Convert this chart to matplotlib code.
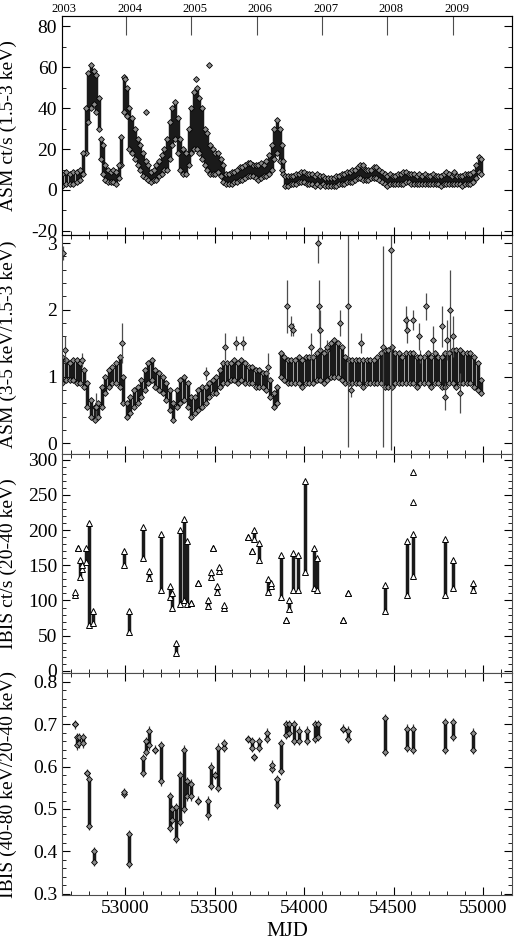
import matplotlib
matplotlib.use("Agg")
import matplotlib.pyplot as plt
import numpy as np
from matplotlib.ticker import MultipleLocator

plt.rcParams['font.family'] = ['Liberation Serif', 'DejaVu Serif']
plt.rcParams['axes.unicode_minus'] = False

# ASM 1.5-3 keV rate: MJD, lower and upper envelope of the points
asm_t = [52650, 52670, 52690, 52710, 52730, 52750, 52765, 52780, 52795, 52810, 52825, 52840, 52855, 52865,
         52875, 52890, 52905, 52920, 52935, 52950, 52965, 52980, 52995, 53010, 53025, 53040, 53055, 53070,
         53085, 53100, 53115, 53130, 53145, 53160, 53175, 53190, 53205, 53220, 53235, 53250, 53265, 53280,
         53295, 53310, 53325, 53340, 53355, 53370, 53385, 53400, 53415, 53430, 53445, 53460, 53475, 53490,
         53505, 53520, 53535, 53550, 53565, 53580, 53595, 53610, 53625, 53640, 53655, 53670, 53685, 53700,
         53715, 53730, 53745, 53760, 53775, 53790, 53805, 53820, 53835, 53850, 53865, 53875, 53885, 53895,
         53910, 53925, 53940, 53955, 53970, 53985, 54000, 54015, 54030, 54045, 54060, 54075, 54090, 54105,
         54120, 54135, 54150, 54165, 54180, 54195, 54210, 54225, 54240, 54255, 54270, 54285, 54300, 54315,
         54330, 54345, 54360, 54375, 54390, 54405, 54420, 54435, 54450, 54465, 54480, 54495, 54510, 54525,
         54540, 54555, 54570, 54585, 54600, 54615, 54630, 54645, 54660, 54675, 54690, 54705, 54720, 54735,
         54750, 54765, 54780, 54795, 54810, 54825, 54840, 54855, 54870, 54885, 54900, 54915, 54930, 54945,
         54960, 54975, 54990]
asm_lo = [2, 3, 3, 3, 4, 5, 8, 18, 33, 40, 42, 38, 30, 15,
          8, 5, 4, 4, 4, 3, 6, 12, 38, 36, 20, 18, 15, 12,
          10, 7, 6, 5, 4, 5, 5, 7, 8, 10, 10, 15, 22, 25,
          18, 10, 8, 8, 12, 18, 20, 20, 18, 15, 12, 10, 8, 8,
          8, 9, 7, 4, 3, 3, 3, 4, 4, 5, 5, 6, 7, 7,
          7, 6, 5, 6, 7, 7, 8, 10, 15, 18, 14, 10, 8, 2,
          2, 3, 3, 3, 4, 4, 4, 3, 3, 3, 2, 3, 2, 3,
          2, 2, 2, 2, 2, 3, 3, 3, 4, 4, 4, 5, 6, 6,
          5, 5, 5, 6, 6, 6, 5, 4, 3, 2, 3, 3, 3, 3,
          3, 3, 4, 4, 3, 3, 3, 3, 3, 3, 3, 3, 3, 3,
          3, 2, 3, 3, 3, 3, 3, 3, 3, 2, 3, 3, 3, 4,
          6, 9, 8]
asm_hi = [8, 9, 8, 9, 9, 10, 18, 40, 57, 61, 58, 56, 45, 25,
          22, 12, 10, 9, 10, 9, 12, 26, 55, 50, 40, 35, 30, 25,
          22, 18, 14, 12, 9, 10, 12, 14, 17, 20, 25, 33, 40, 43,
          35, 25, 20, 18, 30, 40, 48, 50, 45, 40, 30, 28, 22, 20,
          18, 18, 15, 12, 8, 8, 9, 9, 10, 11, 11, 12, 13, 13,
          12, 12, 12, 13, 12, 14, 17, 22, 30, 34, 30, 22, 14, 7,
          7, 7, 7, 8, 8, 9, 9, 8, 8, 8, 7, 8, 7, 7,
          6, 6, 6, 6, 7, 7, 8, 8, 9, 9, 10, 10, 11, 12,
          11, 10, 10, 10, 11, 11, 10, 9, 8, 7, 8, 7, 7, 8,
          8, 9, 9, 8, 8, 8, 7, 8, 7, 8, 7, 7, 8, 7,
          7, 7, 8, 9, 8, 7, 8, 7, 7, 7, 8, 8, 8, 9,
          12, 16, 15]
asm_out_t = [53000, 53395, 53470, 53120, 53700, 54330, 54840]
asm_out_v = [54, 54, 61, 38, 13, 12, 9]

# ASM hardness ratio (3-5 keV / 1.5-3 keV)
hr_t = [52650, 52670, 52690, 52710, 52730, 52750, 52770, 52790, 52810, 52830, 52850, 52870, 52890, 52910,
        52930, 52950, 52970, 52990, 53010, 53030, 53050, 53070, 53090, 53110, 53130, 53150, 53170, 53190,
        53210, 53230, 53250, 53270, 53290, 53310, 53330, 53350, 53370, 53390, 53410, 53430, 53450, 53470,
        53490, 53510, 53530, 53550, 53570, 53590, 53610, 53630, 53650, 53670, 53690, 53710, 53730, 53750,
        53770, 53790, 53810, 53830, 53850, 53870, 53890, 53910, 53930, 53950, 53970, 53990, 54010, 54030,
        54050, 54070, 54090, 54110, 54130, 54150, 54170, 54190, 54210, 54230, 54250, 54270, 54290, 54310,
        54330, 54350, 54370, 54390, 54410, 54430, 54450, 54470, 54490, 54510, 54530, 54550, 54570, 54590,
        54610, 54630, 54650, 54670, 54690, 54710, 54730, 54750, 54770, 54790, 54810, 54830, 54850, 54870,
        54890, 54910, 54930, 54950, 54970, 54990]
hr_lo = [0.9, 0.95, 0.95, 0.95, 0.9, 0.9, 0.85, 0.55, 0.4, 0.35, 0.4, 0.55, 0.75, 0.85,
         0.9, 0.9, 0.85, 0.6, 0.4, 0.45, 0.55, 0.6, 0.7, 0.8, 0.9, 0.95, 0.85, 0.8,
         0.75, 0.65, 0.5, 0.35, 0.55, 0.6, 0.65, 0.55, 0.4, 0.45, 0.5, 0.55, 0.6, 0.7,
         0.75, 0.75, 0.85, 0.9, 0.9, 0.95, 0.95, 0.9, 0.95, 0.9, 0.9, 0.9, 0.85, 0.85,
         0.85, 0.8, 0.7, 0.55, 0.6, 1.0, 0.95, 0.9, 0.9, 0.9, 0.9, 0.85, 0.9, 0.9,
         0.9, 0.95, 0.95, 0.9, 0.95, 1.0, 1.0, 1.0, 0.95, 0.9, 0.9, 0.9, 0.9, 0.9,
         0.85, 0.9, 0.9, 0.9, 0.9, 0.9, 0.85, 0.85, 0.85, 0.9, 0.9, 0.9, 0.9, 0.9,
         0.9, 0.85, 0.9, 0.9, 0.9, 0.85, 0.9, 0.9, 0.85, 0.85, 0.9, 0.9, 0.85, 0.9,
         0.9, 0.9, 0.9, 0.85, 0.8, 0.75]
hr_hi = [1.3, 1.25, 1.2, 1.25, 1.25, 1.2, 1.1, 0.9, 0.65, 0.55, 0.6, 0.85, 1.0, 1.1,
         1.15, 1.2, 1.3, 1.0, 0.6, 0.7, 0.8, 0.85, 0.95, 1.1, 1.2, 1.25, 1.1, 1.05,
         1.0, 0.9, 0.8, 0.6, 0.8, 0.95, 1.0, 0.9, 0.7, 0.7, 0.8, 0.85, 0.85, 0.9,
         0.95, 1.0, 1.1, 1.2, 1.2, 1.2, 1.25, 1.2, 1.25, 1.2, 1.15, 1.15, 1.1, 1.1,
         1.05, 1.05, 0.95, 0.75, 0.85, 1.35, 1.3, 1.25, 1.25, 1.25, 1.3, 1.25, 1.3, 1.3,
         1.3, 1.35, 1.4, 1.35, 1.4, 1.5, 1.55, 1.5, 1.45, 1.3, 1.25, 1.25, 1.25, 1.25,
         1.25, 1.25, 1.25, 1.25, 1.3, 1.35, 1.4, 1.4, 1.45, 1.35, 1.35, 1.3, 1.35, 1.35,
         1.35, 1.3, 1.3, 1.3, 1.35, 1.3, 1.35, 1.3, 1.3, 1.35, 1.35, 1.4, 1.4, 1.4,
         1.35, 1.35, 1.35, 1.3, 1.2, 0.95]
hr_out_t = [52655, 52665, 52760, 52840, 52985, 53450, 53560, 53620, 53660, 53800, 53907, 53925, 53940,
            54040, 54080, 54082, 54090, 54130, 54200, 54244, 54260, 54320, 54443, 54484, 54570, 54575,
            54610, 54640, 54650, 54680, 54720, 54770, 54790, 54800, 54815, 54830, 54870]
hr_out_v = [2.85, 1.4, 1.25, 0.55, 1.5, 1.05, 1.45, 1.5, 1.5, 1.15, 2.05, 1.75, 1.7,
            1.45, 3.0, 2.05, 1.7, 1.45, 1.8, 2.05, 0.8, 1.5, 1.45, 2.9, 1.85, 1.7,
            1.85, 1.6, 1.3, 2.05, 1.55, 1.75, 0.7, 1.55, 2.0, 1.6, 0.75]
hr_out_e = [0.1, 0.2, 0.1, 0.2, 0.3, 0.1, 0.2, 0.1, 0.1, 0.2, 0.4, 0.15, 0.1,
            0.2, 0.3, 0.4, 0.3, 0.1, 0.2, 2.1, 0.1, 0.15, 1.5, 3.0, 0.2, 0.2,
            0.15, 0.2, 0.1, 0.2, 0.2, 0.3, 0.2, 0.3, 0.6, 0.3, 0.3]

# IBIS 20-40 keV rate, grouped per observation: MJD, min, max
ibis_t = [52721, 52740, 52750, 52760, 52782, 52800, 52819, 52994, 53020, 53102, 53136, 53200, 53250,
          53260, 53283, 53310, 53330, 53345, 53367, 53406, 53466, 53480, 53493, 53516, 53525, 53555,
          53689, 53711, 53722, 53748, 53800, 53815, 53871, 53899, 53916, 53940, 53968, 54005, 54058,
          54075, 54220, 54248, 54452, 54573, 54607, 54787, 54830, 54946]
ibis_lo = [108, 175, 133, 145, 155, 65, 68, 150, 55, 160, 132, 115, 105, 90, 25, 95, 100, 95, 97, 125,
           92, 133, 175, 112, 142, 90, 190, 170, 188, 158, 112, 120, 105, 72, 88, 115, 115, 140, 118,
           115, 72, 110, 85, 108, 135, 108, 118, 115]
ibis_hi = [112, 175, 157, 150, 175, 210, 85, 170, 85, 205, 142, 195, 120, 110, 40, 200, 215, 185, 97,
           125, 100, 140, 175, 120, 148, 93, 190, 170, 200, 182, 130, 125, 165, 72, 100, 167, 165, 270,
           175, 160, 72, 110, 122, 185, 195, 188, 157, 125]
ibis_out_t = [54607, 54607]
ibis_out_v = [240, 283]

# IBIS hardness ratio (40-80 keV / 20-40 keV)
ih_t = [52721, 52730, 52745, 52763, 52786, 52800, 52827, 52994, 53020, 53102, 53115, 53136, 53168,
        53200, 53250, 53260, 53283, 53310, 53330, 53345, 53367, 53406, 53466, 53480, 53503, 53521,
        53555, 53689, 53711, 53722, 53748, 53795, 53819, 53847, 53871, 53900, 53915, 53945, 53970,
        54015, 54060, 54078, 54220, 54248, 54452, 54573, 54607, 54787, 54830, 54946]
ih_lo = [0.70, 0.65, 0.655, 0.655, 0.585, 0.46, 0.375, 0.535, 0.37, 0.585, 0.635, 0.65, 0.64,
         0.565, 0.455, 0.475, 0.43, 0.47, 0.50, 0.53, 0.53, 0.52, 0.485, 0.555, 0.58, 0.55,
         0.645, 0.665, 0.645, 0.623, 0.645, 0.665, 0.595, 0.51, 0.59, 0.675, 0.68, 0.66, 0.66,
         0.66, 0.665, 0.67, 0.69, 0.665, 0.635, 0.645, 0.64, 0.64, 0.67, 0.64]
ih_hi = [0.70, 0.67, 0.67, 0.67, 0.585, 0.57, 0.40, 0.54, 0.44, 0.62, 0.66, 0.685, 0.64,
         0.65, 0.53, 0.50, 0.505, 0.58, 0.64, 0.565, 0.56, 0.52, 0.52, 0.60, 0.58, 0.645,
         0.655, 0.665, 0.66, 0.623, 0.66, 0.68, 0.605, 0.57, 0.655, 0.70, 0.70, 0.70, 0.685,
         0.685, 0.70, 0.70, 0.69, 0.685, 0.715, 0.69, 0.69, 0.705, 0.705, 0.68]

years = ['2003', '2004', '2005', '2006', '2007', '2008', '2009']
year_mjd = [52640, 53005, 53371, 53736, 54101, 54466, 54832]

fig = plt.figure(figsize=(5.2, 9.47), dpi=100)
left, width = 62 / 520, 450 / 520
edges = [16, 235, 454, 673, 895]
axes = []
for i in range(4):
    top, bot = edges[i], edges[i + 1]
    ax = fig.add_axes([left, 1 - bot / 947, width, (bot - top) / 947])
    axes.append(ax)

dia = dict(marker='D', ms=3, mfc='0.55', mec='black', mew=0.6, ls='none')

# panel 1
ax = axes[0]
ax.vlines(asm_t, asm_lo, asm_hi, color='0.1', lw=2.5)
ax.plot(asm_t, asm_lo, **dia)
ax.plot(asm_t, asm_hi, **dia)
ax.plot(asm_out_t, asm_out_v, **dia)
ax.set_ylim(-22, 85)
ax.yaxis.set_major_locator(MultipleLocator(20))
ax.yaxis.set_minor_locator(MultipleLocator(10))
ax.set_ylabel('ASM ct/s (1.5-3 keV)', fontsize=14)

# panel 2
ax = axes[1]
ax.vlines(hr_t, hr_lo, hr_hi, color='0.1', lw=2.5)
ax.plot(hr_t, hr_lo, **dia)
ax.plot(hr_t, hr_hi, **dia)
ax.errorbar(hr_out_t, hr_out_v, yerr=hr_out_e, fmt='D', ms=3, mfc='0.55', mec='black', mew=0.6,
            ecolor='0.3', elinewidth=0.9, capsize=0)
ax.set_ylim(-0.16, 3.12)
ax.yaxis.set_major_locator(MultipleLocator(1))
ax.yaxis.set_minor_locator(MultipleLocator(0.2))
ax.set_ylabel('ASM (3-5 keV/1.5-3 keV)', fontsize=14)

# panel 3
ax = axes[2]
ax.vlines(ibis_t, ibis_lo, ibis_hi, color='0.1', lw=2.5)
tri = dict(marker='^', ms=4, mfc='white', mec='black', mew=0.7, ls='none')
ax.plot(ibis_t, ibis_lo, **tri)
ax.plot(ibis_t, ibis_hi, **tri)
ax.plot(ibis_out_t, ibis_out_v, **tri)
ax.set_ylim(-3, 308)
ax.yaxis.set_major_locator(MultipleLocator(50))
ax.yaxis.set_minor_locator(MultipleLocator(10))
ax.set_ylabel('IBIS ct/s (20-40 keV)', fontsize=14)

# panel 4
ax = axes[3]
ax.vlines(ih_t, np.array(ih_lo) - 0.01, np.array(ih_hi) + 0.01, color='0.25', lw=0.9)
ax.vlines(ih_t, ih_lo, ih_hi, color='0.1', lw=2.5)
ax.plot(ih_t, ih_lo, **dia)
ax.plot(ih_t, ih_hi, **dia)
ax.set_ylim(0.297, 0.821)
ax.yaxis.set_major_locator(MultipleLocator(0.1))
ax.yaxis.set_minor_locator(MultipleLocator(0.02))
ax.set_ylabel('IBIS (40-80 keV/20-40 keV)', fontsize=14)
ax.set_xlabel('MJD', fontsize=15)

for i, ax in enumerate(axes):
    ax.set_xlim(52648, 55162)
    ax.xaxis.set_major_locator(MultipleLocator(500))
    ax.xaxis.set_minor_locator(MultipleLocator(100))
    ax.tick_params(which='both', direction='in', top=True, right=True, labelsize=14)
    ax.tick_params(which='major', length=6)
    ax.tick_params(which='minor', length=3)
    ax.yaxis.set_label_coords(-0.1, 0.5)
    for s in ax.spines.values():
        s.set_color('0.3')
    if i < 3:
        ax.tick_params(labelbottom=False)

# year axis on top
top = axes[0].twiny()
top.set_xlim(axes[0].get_xlim())
top.set_xticks(year_mjd[1:])
top.set_xticklabels([])
top.tick_params(direction='in', length=14, color='0.3')
for y, m in zip(years, year_mjd):
    top.text(m + 20, 1.005, y, transform=top.get_xaxis_transform(), ha='center', va='bottom', fontsize=9)

fig.savefig('out.png', dpi=100)
